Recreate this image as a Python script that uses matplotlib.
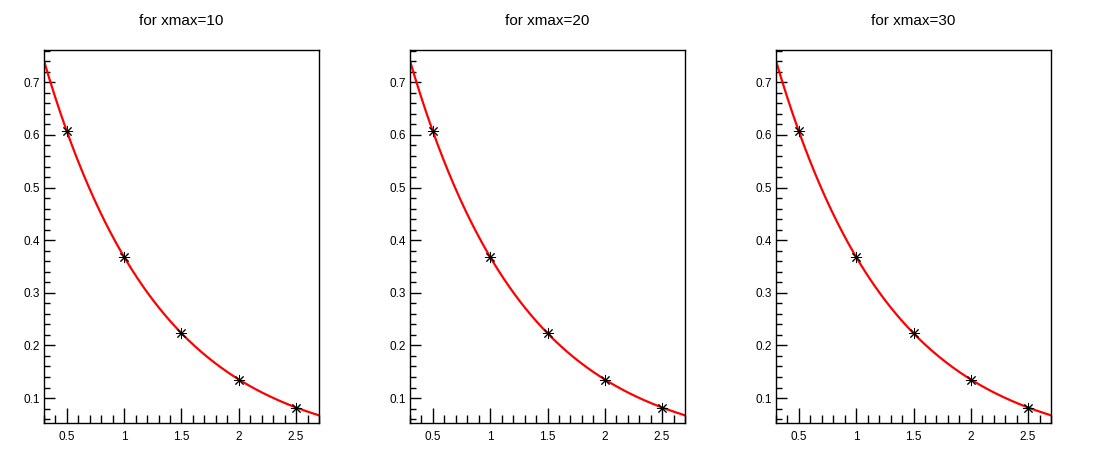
import numpy as np
import matplotlib
matplotlib.use('Agg')
import matplotlib.pyplot as plt
from matplotlib.ticker import MultipleLocator

# data points and the fitted exponential drawn over them
titles = ['for xmax=10', 'for xmax=20', 'for xmax=30']
x_points = [0.5, 1.0, 1.5, 2.0, 2.5]
y_points = [0.607, 0.368, 0.223, 0.135, 0.082]
fit_amp = 1.0
fit_slope = -1.0
fit_range = (0.3, 2.7)

plt.rcParams['font.family'] = ['Liberation Sans', 'DejaVu Sans']

fig = plt.figure(figsize=(10.98, 4.76), dpi=100)
lefts = [44, 410, 776]

fx = np.linspace(fit_range[0], fit_range[1], 300)
fy = fit_amp * np.exp(fit_slope * fx)

for left, title in zip(lefts, titles):
    ax = fig.add_axes([left / 1098, 53 / 476, 275 / 1098, 373 / 476])
    ax.plot(fx, fy, color='red', lw=1.6, zorder=2)
    ax.plot(x_points, y_points, ls='none', marker=(8, 2, 0), ms=8,
            mew=0.7, color='black', zorder=3)
    ax.set_xlim(0.3, 2.7)
    ax.set_ylim(0.0526, 0.7615)
    ax.xaxis.set_major_locator(MultipleLocator(0.5))
    ax.xaxis.set_minor_locator(MultipleLocator(0.1))
    ax.yaxis.set_major_locator(MultipleLocator(0.1))
    ax.yaxis.set_minor_locator(MultipleLocator(0.02))
    ax.xaxis.set_major_formatter(plt.FuncFormatter(lambda v, p: f'{v:g}'))
    ax.yaxis.set_major_formatter(plt.FuncFormatter(lambda v, p: f'{v:g}'))
    ax.tick_params(which='both', direction='in', top=False, right=False,
                   labelsize=8.5, width=1, color='black')
    ax.tick_params(axis='x', which='major', length=11, pad=6)
    ax.tick_params(axis='x', which='minor', length=5.5)
    ax.tick_params(axis='y', which='major', length=8, pad=3)
    ax.tick_params(axis='y', which='minor', length=4)
    for s in ax.spines.values():
        s.set_linewidth(1)
    fig.text((left + 137.5) / 1098, 1 - 21 / 476, title, ha='center',
             va='center', fontsize=11)

fig.savefig('out.png', dpi=100)
